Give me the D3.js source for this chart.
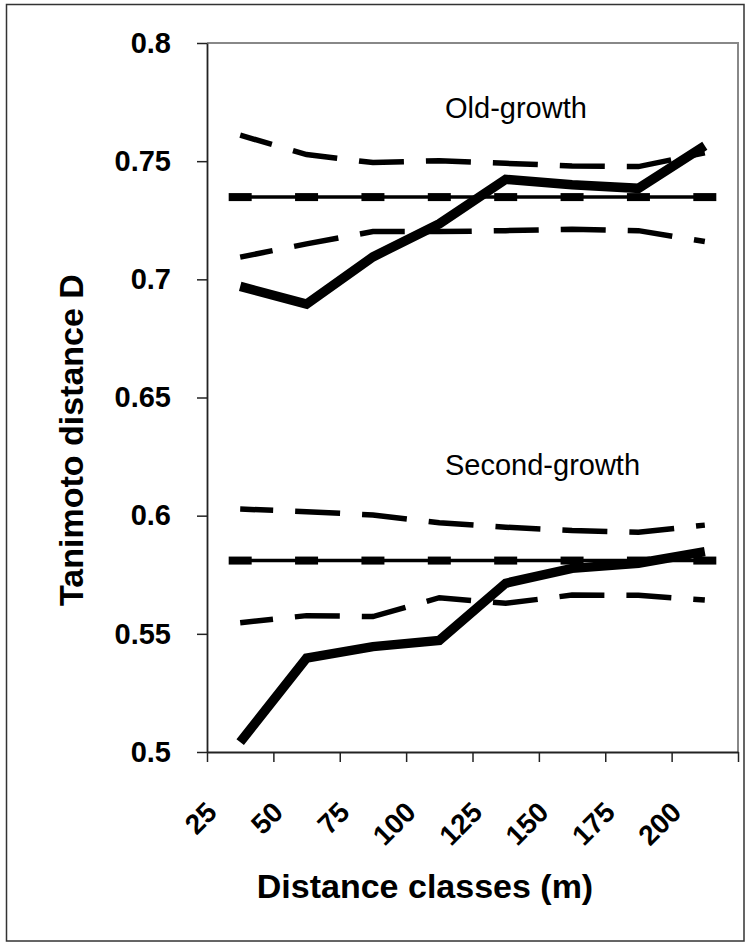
<!DOCTYPE html>
<html lang="en">
<head>
<meta charset="UTF-8">
<title>Tanimoto distance by distance class</title>
<style>
    body { margin: 0; padding: 0; background: #fff; }
    svg { display: block; }
    text { font-family: "Liberation Sans", Arial, sans-serif; fill: #000; }
</style>
</head>
<body>
<svg id="chart" width="746" height="943"></svg>
<script src="https://d3js.org/d3.v7.min.js"></script>
<script>
    // distance classes (class midpoints, m) and axis tick labels
    const classMid = [37.5, 62.5, 87.5, 112.5, 137.5, 162.5, 187.5, 212.5];
    const xTicks = [25, 50, 75, 100, 125, 150, 175, 200, 225];
    const yTicks = [0.5, 0.55, 0.6, 0.65, 0.7, 0.75, 0.8];

    // old-growth
    const oldObserved = [0.697, 0.6895, 0.7095, 0.7235, 0.7423, 0.740, 0.7385, 0.7565];
    const oldUpper    = [0.761, 0.7528, 0.7494, 0.7502, 0.7491, 0.748, 0.7477, 0.7535];
    const oldLower    = [0.7094, 0.715, 0.7202, 0.7202, 0.7206, 0.7212, 0.7206, 0.716];
    const oldMean     = [0.7348, 0.7348, 0.7348, 0.7348, 0.7348, 0.7348, 0.7348, 0.7348];

    // second-growth
    const secObserved = [0.5042, 0.5397, 0.5446, 0.5472, 0.5714, 0.5777, 0.5799, 0.5848];
    const secUpper    = [0.6028, 0.6017, 0.6003, 0.597, 0.5951, 0.5937, 0.593, 0.596];
    const secLower    = [0.5547, 0.5577, 0.5573, 0.5653, 0.5629, 0.5664, 0.5663, 0.5643];
    const secMean     = [0.581, 0.581, 0.581, 0.581, 0.581, 0.581, 0.581, 0.581];

    const svg = d3.select("#chart");

    const m = { left: 207, right: 738, top: 43, bottom: 752 };

    const x = d3.scaleLinear().domain([25, 225]).range([m.left, m.right]);
    const y = d3.scaleLinear().domain([0.5, 0.8]).range([m.bottom, m.top]);

    // outer frame
    svg.append("rect")
        .attr("x", 6.5).attr("y", 4.5)
        .attr("width", 737.5).attr("height", 936.5)
        .attr("fill", "none")
        .attr("stroke", "#333")
        .attr("stroke-width", 1.5);

    // plot area border (top and right in grey)
    svg.append("path")
        .attr("d", `M${m.left},${m.top}H${m.right}V${m.bottom}`)
        .attr("fill", "none")
        .attr("stroke", "#888")
        .attr("stroke-width", 2);

    // y axis
    const yAxis = svg.append("g")
        .attr("transform", `translate(${m.left},0)`)
        .call(d3.axisLeft(y).tickValues(yTicks).tickSize(10).tickSizeOuter(0).tickPadding(26)
            .tickFormat(d => d3.format("")(+d.toFixed(2))));
    yAxis.select(".domain").attr("stroke", "#222").attr("stroke-width", 1.8);
    yAxis.selectAll(".tick line").attr("stroke", "#222").attr("stroke-width", 1.5);
    yAxis.selectAll(".tick text")
        .attr("font-size", 29)
        .attr("font-weight", "bold")
        .attr("font-family", "'Liberation Sans', Arial, sans-serif");

    // x axis
    const xAxis = svg.append("g")
        .attr("transform", `translate(0,${m.bottom})`)
        .call(d3.axisBottom(x).tickValues(xTicks).tickSize(10).tickSizeOuter(0)
            .tickFormat(d => d === 225 ? "" : d));
    xAxis.select(".domain").attr("stroke", "#222").attr("stroke-width", 1.8);
    xAxis.selectAll(".tick line").attr("stroke", "#222").attr("stroke-width", 1.5);
    xAxis.selectAll(".tick text")
        .attr("y", 0)
        .attr("dy", "0.35em")
        .attr("transform", "translate(4,55) rotate(-45)")
        .attr("text-anchor", "end")
        .attr("font-size", 28)
        .attr("font-weight", "bold")
        .attr("font-family", "'Liberation Sans', Arial, sans-serif");

    // axis titles
    svg.append("text")
        .attr("transform", "translate(83,440) rotate(-90)")
        .attr("text-anchor", "middle")
        .attr("font-size", 34)
        .attr("font-weight", "bold")
        .text("Tanimoto distance D");

    svg.append("text")
        .attr("x", 425).attr("y", 898)
        .attr("text-anchor", "middle")
        .attr("font-size", 34)
        .attr("font-weight", "bold")
        .text("Distance classes (m)");

    const line = d3.line()
        .x((d, i) => x(classMid[i]))
        .y(d => y(d));

    const plot = svg.append("g");

    // confidence envelopes (long dash)
    [oldUpper, oldLower, secUpper, secLower].forEach(s => {
        plot.append("path")
            .attr("d", line(s))
            .attr("fill", "none")
            .attr("stroke", "#000")
            .attr("stroke-width", 5.5)
            .attr("stroke-dasharray", "45 22")
            .attr("stroke-dashoffset", 12);
    });

    // expected value: thin line with dash markers
    [oldMean, secMean].forEach(s => {
        plot.append("path")
            .attr("d", line(s))
            .attr("fill", "none")
            .attr("stroke", "#000")
            .attr("stroke-width", 3.5);
        plot.selectAll(null)
            .data(s)
            .join("rect")
            .attr("x", (d, i) => x(classMid[i]) - 11.5)
            .attr("y", d => y(d) - 4)
            .attr("width", 23)
            .attr("height", 8)
            .attr("fill", "#000");
    });

    // observed values
    [oldObserved, secObserved].forEach(s => {
        plot.append("path")
            .attr("d", line(s))
            .attr("fill", "none")
            .attr("stroke", "#000")
            .attr("stroke-width", 9.5)
            .attr("stroke-linejoin", "miter");
    });

    // labels
    svg.append("text")
        .attr("x", 445).attr("y", 118)
        .attr("font-size", 29)
        .text("Old-growth");

    svg.append("text")
        .attr("x", 445).attr("y", 475)
        .attr("font-size", 29)
        .text("Second-growth");
</script>
</body>
</html>
